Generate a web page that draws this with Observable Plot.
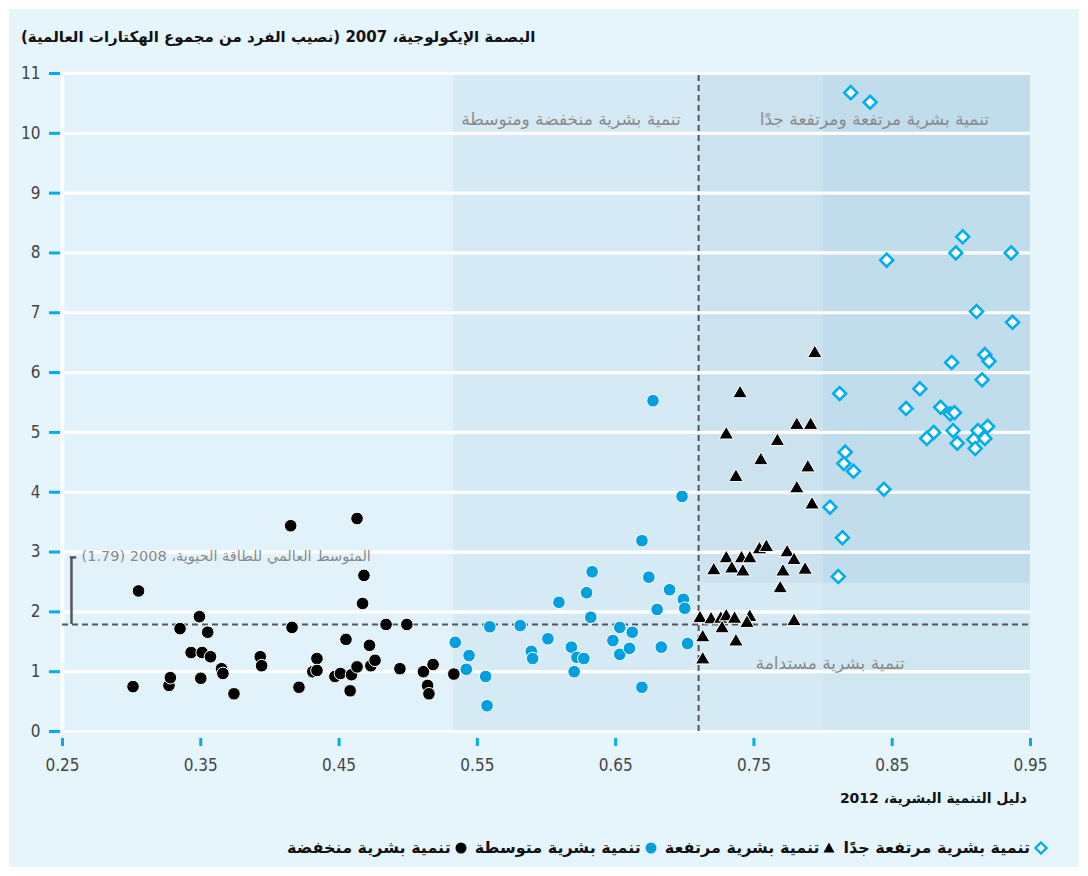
<!DOCTYPE html>
<html><head><meta charset="utf-8">
<script src="https://cdn.jsdelivr.net/npm/d3@7"></script>
<script src="https://cdn.jsdelivr.net/npm/@observablehq/plot@0.6"></script>
<style>
body{margin:0;width:1088px;height:876px;background:#fff;position:relative;overflow:hidden;font-family:"DejaVu Sans",sans-serif;}
#frame{position:absolute;left:9px;top:9px;width:1070px;height:858px;background:#e6f4fb;}
#title{position:absolute;left:21px;top:28px;font-weight:bold;font-size:15px;color:#111;direction:rtl;white-space:nowrap;}
#chart{position:absolute;left:0;top:55px;}
#xtitle{position:absolute;right:61px;top:790px;font-weight:bold;font-size:14px;color:#111;direction:rtl;white-space:nowrap;}
#legend{position:absolute;right:40px;top:838px;display:flex;direction:rtl;align-items:center;font-weight:bold;font-size:16px;color:#111;white-space:nowrap;}
#legend .item{display:flex;align-items:center;margin-left:8px;}
#legend svg{margin-left:4px;}
</style></head>
<body>
<div id="frame"></div>
<div id="title"></div>
<div id="chart"></div>
<div id="xtitle"></div>
<div id="legend"></div>
<script>
const titleText = "البصمة الإيكولوجية، 2007 (نصيب الفرد من مجموع الهكتارات العالمية)";
const xTitleText = "دليل التنمية البشرية، 2012";
const groupNames = ["تنمية بشرية مرتفعة جدًا", "تنمية بشرية مرتفعة", "تنمية بشرية متوسطة", "تنمية بشرية منخفضة"];

const xTicks = [0.25, 0.35, 0.45, 0.55, 0.65, 0.75, 0.85, 0.95];
const yTicks = [0, 1, 2, 3, 4, 5, 6, 7, 8, 9, 10, 11];

// HDI thresholds and reference values
const lowMediumStart = 0.533;
const hdiDivider = 0.71;
const veryHighStart = 0.80;
const bandSplitY = 2.48;
const biocapacity = 1.79;
const bracketTop = 2.91;

// [HDI 2012, ecological footprint 2007]
const lowHDI = [[0.301,0.75],[0.305,2.35],[0.327,0.77],[0.328,0.90],[0.335,1.72],[0.343,1.32],[0.349,1.92],[0.350,0.89],[0.351,1.32],[0.355,1.66],[0.357,1.25],[0.365,1.05],[0.366,0.97],[0.374,0.63],[0.393,1.25],[0.394,1.10],[0.415,3.44],[0.416,1.74],[0.421,0.74],[0.431,1.00],[0.434,1.22],[0.434,1.02],[0.447,0.92],[0.451,0.97],[0.455,1.54],[0.458,0.68],[0.459,0.95],[0.463,1.08],[0.463,3.56],[0.467,2.14],[0.468,2.61],[0.472,1.44],[0.473,1.10],[0.476,1.19],[0.484,1.79],[0.494,1.05],[0.499,1.79],[0.511,1.00],[0.514,0.77],[0.515,0.63],[0.518,1.12],[0.533,0.96]];
const mediumHDI = [[0.677,5.53],[0.698,3.93],[0.669,3.19],[0.633,2.67],[0.674,2.58],[0.629,2.32],[0.689,2.37],[0.699,2.21],[0.609,2.16],[0.680,2.04],[0.700,2.06],[0.632,1.91],[0.559,1.75],[0.581,1.77],[0.653,1.74],[0.662,1.66],[0.534,1.49],[0.601,1.55],[0.648,1.52],[0.544,1.27],[0.589,1.34],[0.590,1.22],[0.618,1.41],[0.622,1.24],[0.627,1.22],[0.653,1.29],[0.660,1.39],[0.683,1.41],[0.702,1.47],[0.542,1.04],[0.556,0.92],[0.620,1.00],[0.669,0.74],[0.557,0.43]];
const highHDI = [[0.794,6.32],[0.740,5.65],[0.781,5.12],[0.791,5.12],[0.730,4.96],[0.767,4.85],[0.755,4.53],[0.789,4.41],[0.737,4.25],[0.781,4.06],[0.792,3.79],[0.754,3.04],[0.759,3.08],[0.774,2.99],[0.779,2.86],[0.730,2.89],[0.741,2.89],[0.747,2.89],[0.721,2.69],[0.734,2.72],[0.742,2.67],[0.771,2.67],[0.787,2.70],[0.769,2.39],[0.711,1.89],[0.719,1.87],[0.726,1.88],[0.730,1.92],[0.736,1.88],[0.747,1.91],[0.745,1.81],[0.727,1.72],[0.779,1.84],[0.713,1.57],[0.737,1.50],[0.713,1.20]];
const veryHighHDI = [[0.820,10.68],[0.834,10.52],[0.901,8.27],[0.896,8.00],[0.936,8.00],[0.846,7.88],[0.911,7.02],[0.937,6.84],[0.917,6.30],[0.920,6.19],[0.893,6.17],[0.915,5.88],[0.870,5.73],[0.812,5.65],[0.860,5.40],[0.885,5.42],[0.892,5.31],[0.895,5.33],[0.919,5.10],[0.880,5.00],[0.875,4.90],[0.894,5.03],[0.912,5.03],[0.897,4.82],[0.909,4.88],[0.917,4.90],[0.910,4.73],[0.816,4.67],[0.815,4.48],[0.822,4.35],[0.844,4.05],[0.805,3.75],[0.814,3.24],[0.811,2.59]];

const bandLabelTexts = ["تنمية بشرية منخفضة ومتوسطة", "تنمية بشرية مرتفعة ومرتفعة جدًا", "تنمية بشرية مستدامة"];
const bandLabelX = [0.697, 0.920, 0.859];
const bandLabelY = [10.23, 10.23, 1.14];
const biocapacityLabel = "المتوسط العالمي للطاقة الحيوية، 2008 (1.79)";
const biocapacityLabelX = 0.473;
const biocapacityLabelY = 2.93;

const rtl = s => "\u202B" + s + "\u202C";
const bandLabels = bandLabelTexts.map((t, i) => ({text: rtl(t), x: bandLabelX[i], y: bandLabelY[i]}));

const bands = [
  {x1: 0.25, x2: 0.95, y1: 0, y2: 11, fill: "#e2f2fa"},
  {x1: lowMediumStart, x2: 0.95, y1: 0, y2: 11, fill: "#d6eaf5"},
  {x1: hdiDivider, x2: veryHighStart, y1: bandSplitY, y2: 11, fill: "#cce3ef"},
  {x1: veryHighStart, x2: 0.95, y1: 0, y2: bandSplitY, fill: "#d0e6f1"},
  {x1: veryHighStart, x2: 0.95, y1: bandSplitY, y2: 11, fill: "#c1dcea"}
];

const blue = "#009fdf";
const cyan = "#00aeef";
const latin = '"Liberation Sans Narrow","DejaVu Sans Condensed",sans-serif';

const chart = Plot.plot({
  width: 1088, height: 740,
  marginTop: 18, marginBottom: 64, marginLeft: 62, marginRight: 58,
  x: {domain: [0.25, 0.95]},
  y: {domain: [0, 11]},
  style: {background: "transparent", fontFamily: latin, fontSize: "17px", color: "#444"},
  marks: [
    Plot.rect(bands, {x1: "x1", x2: "x2", y1: "y1", y2: "y2", fill: d => d.fill}),
    Plot.ruleY(yTicks, {stroke: "white", strokeWidth: 3.2}),
    Plot.ruleX([0.25], {y1: 0, y2: 11, stroke: "white", strokeWidth: 3.5}),
    Plot.ruleY([biocapacity], {x1: 0.25, x2: 0.95, stroke: "#555", strokeWidth: 2, strokeDasharray: "6,4"}),
    Plot.ruleX([hdiDivider], {y1: 0, y2: 11, stroke: "#555", strokeWidth: 2, strokeDasharray: "6,4"}),
    Plot.ruleX([0.2565], {y1: biocapacity, y2: bracketTop, stroke: "#555", strokeWidth: 2.5}),
    Plot.ruleY([bracketTop], {x1: 0.2556, x2: 0.2603, stroke: "#555", strokeWidth: 2.5}),
    Plot.text(bandLabels, {x: "x", y: "y", text: "text", textAnchor: "end", fill: "#8a8a8a", fontSize: 17, fontFamily: "DejaVu Sans"}),
    Plot.text([rtl(biocapacityLabel)], {x: biocapacityLabelX, y: biocapacityLabelY, text: d => d, textAnchor: "end", fill: "#8a8a8a", fontSize: 14.5, fontFamily: "DejaVu Sans"}),
    Plot.dot(lowHDI, {x: d => d[0], y: d => d[1], r: 6.3, fill: "black", stroke: "white", strokeWidth: 1}),
    Plot.dot(mediumHDI, {x: d => d[0], y: d => d[1], r: 6.3, fill: blue, stroke: "white", strokeWidth: 1}),
    Plot.dot(highHDI, {x: d => d[0], y: d => d[1], r: 5.4, symbol: "triangle", fill: "black", stroke: "white", strokeWidth: 1}),
    Plot.dot(veryHighHDI, {x: d => d[0], y: d => d[1], r: 5.8, symbol: "diamond2", fill: "white", stroke: cyan, strokeWidth: 2.6}),
    Plot.axisX({ticks: xTicks, tickFormat: d3.format(".2f"), tickSize: 8, dy: 7, tickPadding: 12, stroke: cyan, strokeWidth: 3, fill: "#444", label: null}),
    Plot.axisY({ticks: yTicks, tickSize: 11, dx: -2, tickPadding: 9, stroke: cyan, strokeWidth: 3, fill: "#444", label: null})
  ]
});
document.getElementById("chart").appendChild(chart);

document.getElementById("title").textContent = titleText;
document.getElementById("xtitle").textContent = xTitleText;

const legendSymbols = [
  `<svg width="14" height="14" viewBox="-7 -7 14 14"><path d="M0,-5.5L5.5,0L0,5.5L-5.5,0Z" fill="white" stroke="${cyan}" stroke-width="2.4"/></svg>`,
  `<svg width="12" height="12" viewBox="-6 -6 12 12"><path d="M0,-5.5L5.5,4.5L-5.5,4.5Z" fill="black"/></svg>`,
  `<svg width="12" height="12" viewBox="-6 -6 12 12"><circle r="5.5" fill="${blue}"/></svg>`,
  `<svg width="12" height="12" viewBox="-6 -6 12 12"><circle r="5.5" fill="black"/></svg>`
];
const legend = document.getElementById("legend");
groupNames.forEach((name, i) => {
  const item = document.createElement("div");
  item.className = "item";
  item.innerHTML = legendSymbols[i] + `<span>${name}</span>`;
  legend.appendChild(item);
});
</script>
</body></html>
